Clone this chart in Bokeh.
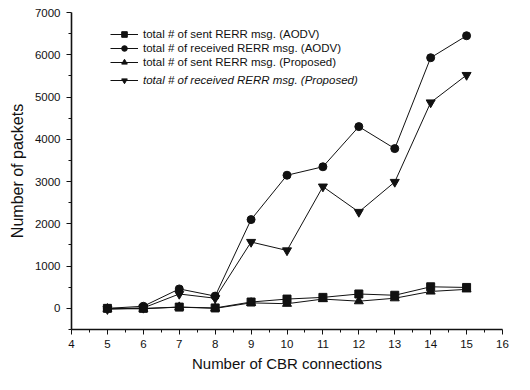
from bokeh.plotting import figure
from bokeh.models import Legend, LegendItem, FixedTicker, Range1d
from bokeh.embed import file_html
from bokeh.resources import INLINE

x = [5, 6, 7, 8, 9, 10, 11, 12, 13, 14, 15]
sent_aodv = [0, 0, 30, 10, 150, 220, 260, 340, 310, 510, 495]
recv_aodv = [0, 50, 460, 290, 2100, 3150, 3350, 4300, 3780, 5930, 6450]
sent_prop = [-10, -10, 30, 0, 130, 110, 220, 170, 240, 400, 450]
recv_prop = [-20, 10, 340, 240, 1570, 1370, 2880, 2280, 2990, 4870, 5520]

labels = [
    "total # of sent RERR msg. (AODV)",
    "total # of received RERR msg. (AODV)",
    "total # of sent RERR msg. (Proposed)",
    "total # of received RERR msg. (Proposed)",
]
x_ticks = list(range(4, 17))
y_ticks = [0, 1000, 2000, 3000, 4000, 5000, 6000, 7000]

FONT = "Liberation Sans"
INK = "#111111"

p = figure(width=514, height=374, output_backend="svg", toolbar_location=None,
           x_range=Range1d(4, 16), y_range=Range1d(-500, 7000),
           min_border_left=71, min_border_right=12, min_border_top=12, min_border_bottom=45)
p.outline_line_color = None
p.xgrid.visible = False
p.ygrid.visible = False
p.background_fill_color = "white"
p.border_fill_color = "white"

series = [
    (sent_aodv, "square", 8),
    (recv_aodv, "circle", 8),
    (sent_prop, "triangle", 9),
    (recv_prop, "inverted_triangle", 9),
]
renderers = []
for ys, marker, size in series:
    l = p.line(x, ys, line_color=INK, line_width=1)
    m = p.scatter(x, ys, marker=marker, size=size, fill_color=INK, line_color=INK)
    renderers.append((l, m))

for ax in (p.xaxis[0], p.yaxis[0]):
    ax.axis_line_width = 1.6
    ax.axis_line_color = INK
    ax.major_tick_line_color = INK
    ax.minor_tick_line_color = INK
    ax.major_tick_in = 0
    ax.major_tick_out = 5
    ax.minor_tick_in = 0
    ax.minor_tick_out = 3
    ax.major_label_text_font = FONT
    ax.major_label_text_font_size = "11.5px"
    ax.major_label_text_color = INK
    ax.axis_label_text_font = FONT
    ax.axis_label_text_font_style = "normal"
    ax.axis_label_text_color = INK

p.xaxis.axis_label_text_font_size = "15px"
p.yaxis.axis_label_text_font_size = "16px"
p.xaxis.ticker = FixedTicker(ticks=x_ticks, minor_ticks=[v + 0.5 for v in x_ticks[:-1]])
p.yaxis.ticker = FixedTicker(ticks=y_ticks, minor_ticks=[v + 500 for v in [-1000] + y_ticks[:-1]])
p.xaxis.axis_label = "Number of CBR connections"
p.yaxis.axis_label = "Number of packets"
p.xaxis.major_label_standoff = 5
p.yaxis.major_label_standoff = 6
p.xaxis.axis_label_standoff = 4
p.yaxis.axis_label_standoff = 6

def make_legend(items, loc, style):
    lg = Legend(items=items, location=loc, orientation="vertical",
                border_line_color=None, background_fill_alpha=0,
                padding=0, margin=0, spacing=0,
                glyph_width=28, glyph_height=14, label_height=14,
                label_standoff=5,
                label_text_font=FONT, label_text_font_size="11.5px",
                label_text_font_style=style, label_text_color=INK)
    p.add_layout(lg)
    return lg

items1 = [LegendItem(label=labels[i], renderers=list(renderers[i])) for i in range(3)]
items2 = [LegendItem(label=labels[3], renderers=list(renderers[3]))]
make_legend(items1, (39, 260), "normal")
make_legend(items2, (39, 242), "italic")

open("out.html", "w").write(file_html(p, INLINE))
